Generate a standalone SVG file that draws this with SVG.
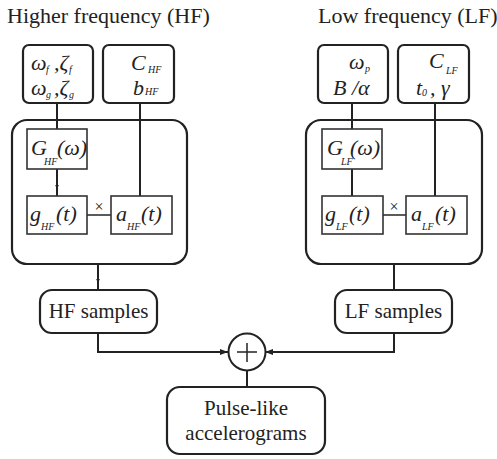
<svg xmlns="http://www.w3.org/2000/svg" width="497" height="459" viewBox="0 0 497 459">
  <style>
    text { font-family: "Liberation Serif", "Times New Roman", serif; fill: #222; }
    .title { font-size: 22px; }
    .lbl { font-size: 21px; text-anchor: middle; }
    .m { font-size: 22px; font-style: italic; }
    .s { font-size: 10px; font-style: italic; }
    .outer { fill: none; stroke: #222; stroke-width: 2.2; }
    .box { fill: #fff; stroke: #222; stroke-width: 2.2; }
    .inner { fill: #fff; stroke: #333; stroke-width: 1.6; }
    .wire { fill: none; stroke: #222; stroke-width: 2; }
    .thin { fill: none; stroke: #333; stroke-width: 1.6; }
    .times { font-size: 16px; text-anchor: middle; }
  </style>
  <defs>
    <marker id="tip" markerWidth="8" markerHeight="6" refX="8" refY="3" orient="auto" markerUnits="userSpaceOnUse">
      <path d="M0,0 L8,3 L0,6 Z" fill="#222"/>
    </marker>
    <marker id="mid" markerWidth="5" markerHeight="4" refX="2.5" refY="2" orient="auto" markerUnits="userSpaceOnUse">
      <path d="M0,0 L5,2 L0,4 Z" fill="#222"/>
    </marker>
  </defs>
  <rect width="497" height="459" fill="#fff"/>

  <!-- section headings -->
  <text class="title" x="7" y="23">Higher frequency (HF)</text>
  <text class="title" x="318" y="23">Low frequency (LF)</text>

  <!-- model containers (drawn under the wires) -->
  <g id="hf-model">
    <rect class="outer" x="12" y="120" width="175" height="144" rx="15"/>
  </g>
  <g id="lf-model">
    <rect class="outer" x="306" y="120" width="176" height="144" rx="15"/>
  </g>

  <!-- connectors -->
  <g id="connectors">
    <path class="wire" d="M57,103 V129"/>
    <path class="wire" d="M140,103 V196"/>
    <path class="wire" d="M352,103 V129"/>
    <path class="wire" d="M435,103 V196"/>
    <path class="wire" d="M57,169 V187" marker-end="url(#mid)"/>
    <path class="wire" d="M57,185 V196"/>
    <path class="wire" d="M352,169 V196"/>
    <path class="thin" d="M87,215 H111"/>
    <path class="thin" d="M383,215 H406"/>
    <path class="wire" d="M98,264 V281" marker-end="url(#mid)"/>
    <path class="wire" d="M98,279 V290"/>
    <path class="wire" d="M394,264 V290"/>
    <path class="wire" d="M98,333 V352 H228" marker-end="url(#tip)"/>
    <path class="wire" d="M394,333 V352 H265" marker-end="url(#tip)"/>
    <path class="wire" d="M247,371 V387"/>
  </g>

  <!-- HF branch -->
  <g id="hf-params-a">
    <rect class="box" x="23" y="45" width="70" height="58" rx="6"/>
    <text class="m" x="31" y="70">ω</text><text class="s" x="46" y="73">f</text>
    <text class="m" x="54" y="70">,ζ</text><text class="s" x="69" y="73">f</text>
    <text class="m" x="31" y="95">ω</text><text class="s" x="46" y="98">g</text>
    <text class="m" x="54" y="95">,ζ</text><text class="s" x="69" y="98">g</text>
  </g>
  <g id="hf-params-b">
    <rect class="box" x="103" y="45" width="71" height="58" rx="6"/>
    <text class="m" x="131" y="70">C</text><text class="s" x="148" y="73">HF</text>
    <text class="m" x="133" y="95">b</text><text class="s" x="145" y="95">HF</text>
  </g>
  <g id="hf-G">
    <rect class="inner" x="27" y="129" width="60" height="40"/>
    <text class="m" x="31" y="155">G</text><text class="s" x="44" y="165">HF</text>
    <text class="m" x="57" y="155">(ω)</text>
  </g>
  <g id="hf-g">
    <rect class="inner" x="27" y="196" width="60" height="38"/>
    <text class="m" x="30" y="221">g</text><text class="s" x="41" y="230">HF</text>
    <text class="m" x="56" y="221">(t)</text>
  </g>
  <g id="hf-a">
    <rect class="inner" x="111" y="196" width="61" height="38"/>
    <text class="m" x="116" y="221">a</text><text class="s" x="127" y="230">HF</text>
    <text class="m" x="141" y="221">(t)</text>
  </g>
  <text class="times" x="99" y="212">×</text>

  <!-- LF branch -->
  <g id="lf-params-a">
    <rect class="box" x="318" y="45" width="70" height="58" rx="6"/>
    <text class="m" x="349" y="69">ω</text><text class="s" x="365" y="72">p</text>
    <text class="m" x="333" y="95">B /α</text>
  </g>
  <g id="lf-params-b">
    <rect class="box" x="398" y="45" width="71" height="58" rx="6"/>
    <text class="m" x="429" y="68">C</text><text class="s" x="446" y="74">LF</text>
    <text class="m" x="416" y="95">t</text><text class="s" x="422" y="96" font-style="normal">0</text>
    <text class="m" x="430" y="95">, γ</text>
  </g>
  <g id="lf-G">
    <rect class="inner" x="322" y="129" width="60" height="40"/>
    <text class="m" x="327" y="155">G</text><text class="s" x="341" y="165">LF</text>
    <text class="m" x="350" y="155">(ω)</text>
  </g>
  <g id="lf-g">
    <rect class="inner" x="322" y="196" width="61" height="38"/>
    <text class="m" x="325" y="221">g</text><text class="s" x="336" y="230">LF</text>
    <text class="m" x="349" y="221">(t)</text>
  </g>
  <g id="lf-a">
    <rect class="inner" x="406" y="196" width="61" height="38"/>
    <text class="m" x="411" y="221">a</text><text class="s" x="422" y="230">LF</text>
    <text class="m" x="435" y="221">(t)</text>
  </g>
  <text class="times" x="394" y="212">×</text>

  <!-- outputs -->
  <g id="hf-samples">
    <rect class="box" x="40" y="290" width="117" height="43" rx="12"/>
    <text class="lbl" x="98.5" y="318">HF samples</text>
  </g>
  <g id="lf-samples">
    <rect class="box" x="335" y="290" width="117" height="43" rx="12"/>
    <text class="lbl" x="393.5" y="318">LF samples</text>
  </g>
  <g id="sum">
    <circle cx="247" cy="352" r="18.5" fill="#fff" stroke="#222" stroke-width="2"/>
    <path d="M237,352 H257 M247,343 V362" stroke="#222" stroke-width="1.5"/>
  </g>
  <g id="result">
    <rect class="box" x="167" y="387" width="158" height="67" rx="13"/>
    <text class="lbl" x="246" y="415" font-size="22">Pulse-like</text>
    <text class="lbl" x="246" y="440" font-size="22">accelerograms</text>
  </g>
</svg>
